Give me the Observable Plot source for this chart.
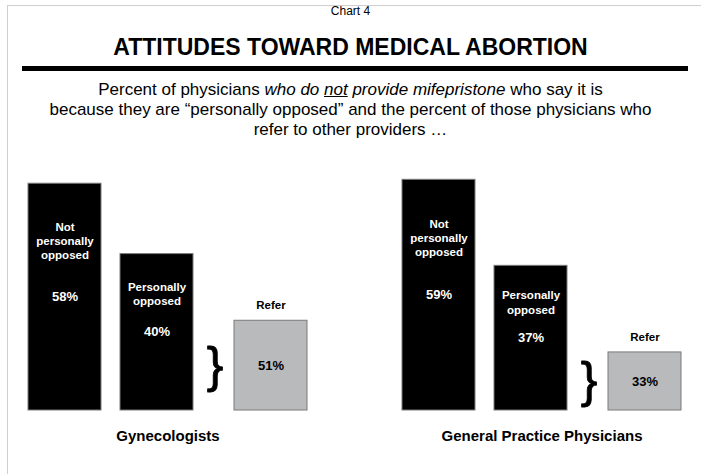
<!DOCTYPE html>
<html>
<head>
<meta charset="utf-8">
<script src="https://cdn.jsdelivr.net/npm/d3@7"></script>
<script src="https://cdn.jsdelivr.net/npm/@observablehq/plot@0.6"></script>
<style>
  html, body { margin: 0; padding: 0; background: #fff; }
  body { font-family: "Liberation Sans", Arial, sans-serif; color: #000; }
  #page { position: relative; width: 701px; height: 474px; overflow: hidden; }
  #frame { position: absolute; left: 7px; top: 5px; right: 0; bottom: 0;
           border-left: 1px solid #cfcfcf; border-top: 1px solid #cfcfcf; }
  #kicker { position: absolute; left: 0; width: 701px; top: 4px; text-align: center;
            font-size: 12px; line-height: 14px; }
  #title { position: absolute; left: 0; width: 701px; top: 34px; text-align: center;
           font-size: 23px; font-weight: bold; line-height: 26px; }
  #rule { position: absolute; left: 22px; width: 666px; top: 66px; height: 5px; background: #000; }
  #subtitle { position: absolute; left: 0; width: 701px; top: 80px; text-align: center;
              font-size: 17px; line-height: 20px; }
  #chart { position: absolute; left: 0; top: 150px; }
</style>
</head>
<body>
<div id="page">
  <div id="frame"></div>
  <div id="kicker">Chart 4</div>
  <div id="title">ATTITUDES TOWARD MEDICAL ABORTION</div>
  <div id="rule"></div>
  <div id="subtitle">Percent of physicians <i>who do <u>not</u> provide mifepristone</i> who say it is<br>because they are “personally opposed” and the percent of those physicians who<br>refer to other providers …</div>
  <div id="chart"></div>
</div>
<script>
// ---- data ----
const groups = ["Gynecologists", "General Practice Physicians"];
const types = ["Not personally opposed", "Personally opposed", "Refer"];
const typeLabels = ["Not\npersonally\nopposed", "Personally\nopposed", "Refer"];
const gynecologistValues = [58, 40, 51];
const generalPracticeValues = [59, 37, 33];

// "Refer" is a share of the personally-opposed group, drawn on a reduced scale
const referScale = 0.45;

const seriesByGroup = [gynecologistValues, generalPracticeValues];
const rows = [];
groups.forEach((g, gi) => {
  types.forEach((t, ti) => {
    const v = seriesByGroup[gi][ti];
    rows.push({
      group: g, type: t, label: typeLabels[ti], value: v,
      refer: t === "Refer",
      h: t === "Refer" ? v * referScale : v
    });
  });
});
const firstRows = rows.filter(d => d.type === types[0]);
const secondRows = rows.filter(d => d.type === types[1]);
const referRows = rows.filter(d => d.refer);

// the "personally opposed" bar sits a little closer to the first bar
const shift = -11;

const blackBarMarks = (data, dx) => [
  Plot.barY(data, {
    fx: "group", x: "type", y: "h", dx,
    fill: "#000", stroke: "#7a7a7a", strokeWidth: 1
  }),
  Plot.text(data, {
    fx: "group", x: "type", y: d => d.h * 0.75, dx,
    text: "label", fill: "#fff", fontWeight: "bold", fontSize: 11.5,
    lineAnchor: "middle", lineHeight: 1.25
  }),
  Plot.text(data, {
    fx: "group", x: "type", y: d => d.h * 0.5, dx,
    text: d => d.value + "%", fill: "#fff", fontWeight: "bold", fontSize: 13
  })
];

const chart = Plot.plot({
  width: 701,
  height: 324,
  marginLeft: 27,
  marginRight: 19,
  marginTop: 25.4,
  marginBottom: 64,
  style: { fontFamily: "Liberation Sans, Arial, sans-serif", background: "transparent" },
  fx: { domain: groups, paddingInner: 0.253, paddingOuter: 0 },
  x: { domain: types, paddingInner: 0.295, paddingOuter: 0, axis: null },
  y: { domain: [0, 60], axis: null },
  marks: [
    ...blackBarMarks(firstRows, 0),
    ...blackBarMarks(secondRows, shift),
    // refer bars
    Plot.barY(referRows, {
      fx: "group", x: "type", y: "h",
      fill: "#b8babc", stroke: "#7a7a7a", strokeWidth: 1
    }),
    Plot.text(referRows, {
      fx: "group", x: "type", y: "h", dy: -15,
      text: "label", fill: "#000", fontWeight: "bold", fontSize: 11.5
    }),
    Plot.text(referRows, {
      fx: "group", x: "type", y: d => d.h * 0.5,
      text: d => d.value + "%", fill: "#000", fontWeight: "bold", fontSize: 13
    }),
    // brace linking personally opposed to refer
    Plot.text(referRows, {
      fx: "group", x: "type", y: d => d.h * 0.5, dx: -56,
      text: () => "}", fill: "#000", stroke: "#000", strokeWidth: 0.8,
      fontSize: 50, lineAnchor: "middle"
    }),
    Plot.axisFx({
      anchor: "bottom", tickSize: 0, tickPadding: 20, label: null,
      fontSize: 15, fontWeight: "bold"
    })
  ]
});
document.getElementById("chart").appendChild(chart);
</script>
</body>
</html>
